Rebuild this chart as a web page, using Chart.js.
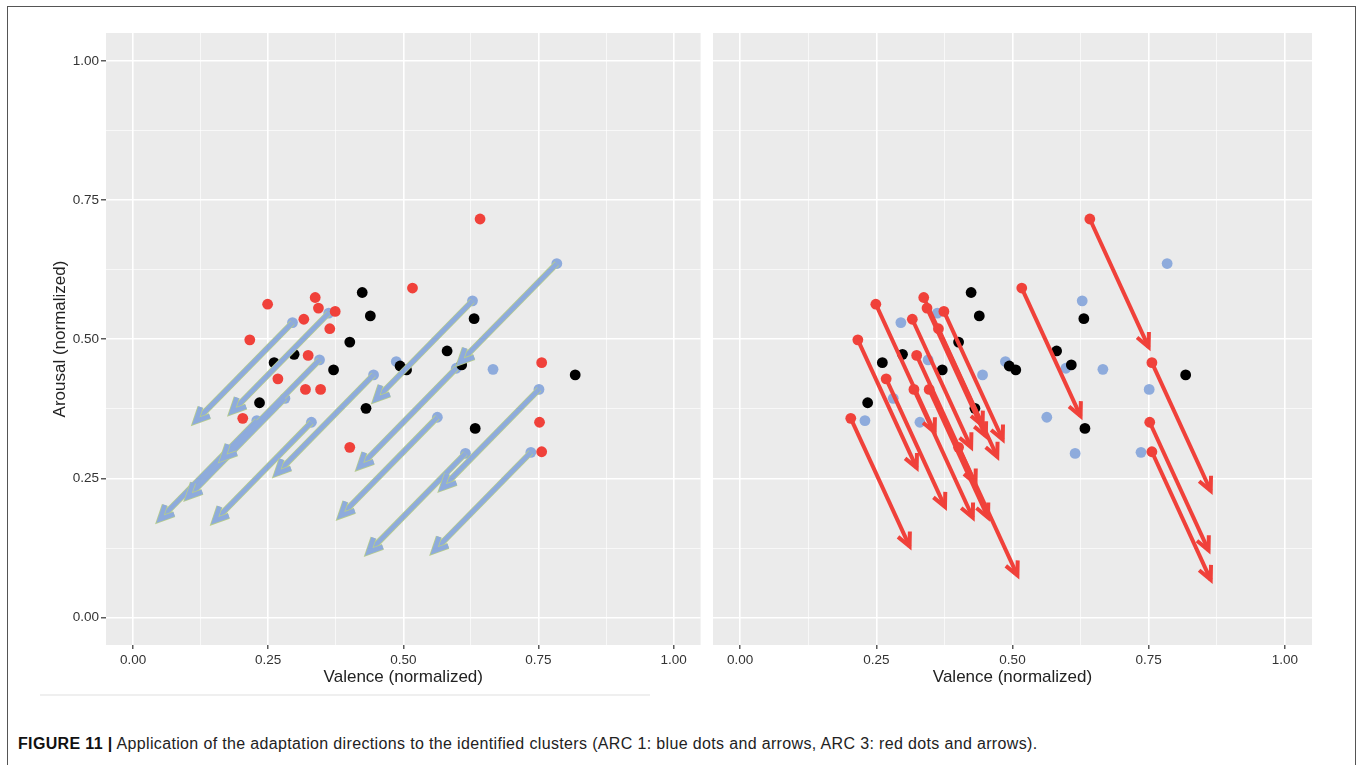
<!DOCTYPE html>
<html>
<head>
<meta charset="utf-8">
<script src="https://cdn.jsdelivr.net/npm/chart.js@4.4.1/dist/chart.umd.min.js"></script>
<style>
  body { margin: 0; background: #fff; width: 1358px; height: 765px; overflow: hidden; position: relative; font-family: "Liberation Sans", Arial, sans-serif; }
  #frame { position: absolute; left: 7px; top: 6px; width: 1347px; height: 800px; border: 1px solid #555; }
  #left { position: absolute; left: 0; top: 0; }
  #right { position: absolute; left: 706px; top: 0; }
  #smudge { position: absolute; left: 40px; top: 694px; width: 610px; height: 2px; background: #efefef; }
  #caption { position: absolute; left: 18px; top: 735px; font-size: 16px; letter-spacing: 0.35px; color: #222; white-space: nowrap; }
  #caption b { color: #111; }
</style>
</head>
<body>
<div id="frame"></div>
<div id="smudge"></div>
<canvas id="left" width="706" height="700"></canvas>
<canvas id="right" width="652" height="700"></canvas>
<div id="caption"><b>FIGURE 11 |</b> Application of the adaptation directions to the identified clusters (ARC 1: blue dots and arrows, ARC 3: red dots and arrows).</div>
<script>
// valence / arousal of each cluster
const blackPoints = [
  [0.424, 0.584], [0.439, 0.542], [0.401, 0.495], [0.298, 0.473], [0.261, 0.458],
  [0.371, 0.445], [0.234, 0.386], [0.431, 0.376], [0.581, 0.479], [0.608, 0.454],
  [0.631, 0.537], [0.494, 0.452], [0.506, 0.445], [0.633, 0.340], [0.818, 0.436]
];
const arc1Points = [
  [0.784, 0.636], [0.628, 0.569], [0.295, 0.530], [0.362, 0.547], [0.345, 0.463],
  [0.445, 0.436], [0.487, 0.460], [0.598, 0.448], [0.666, 0.446], [0.751, 0.410],
  [0.281, 0.394], [0.229, 0.354], [0.330, 0.351], [0.563, 0.360], [0.615, 0.295],
  [0.736, 0.297]
];
// which ARC 1 points got an arrow
const arc1Moved = [true, true, true, true, true, true, false, true, false, true, true, true, true, true, true, true];
const arc3Points = [
  [0.642, 0.716], [0.517, 0.592], [0.249, 0.563], [0.337, 0.575], [0.343, 0.556],
  [0.374, 0.550], [0.316, 0.536], [0.364, 0.519], [0.216, 0.499], [0.324, 0.471],
  [0.268, 0.429], [0.319, 0.410], [0.347, 0.410], [0.203, 0.358], [0.401, 0.306],
  [0.756, 0.458], [0.752, 0.351], [0.756, 0.298]
];
// adaptation directions (delta valence, delta arousal)
const arc1Shift = [-0.179, -0.177];
const arc3Shift = [0.108, -0.230];

const gridValues = [0, 0.125, 0.25, 0.375, 0.5, 0.625, 0.75, 0.875, 1];
const tickLabels = ['0.00', '0.25', '0.50', '0.75', '1.00'];

const RED = '#f0413a';
const BLUE = '#8eabdc';
const EDGE = '#b6cc8c';
const FONT = '"Liberation Sans", Arial, sans-serif';

const toXY = p => ({ x: p[0], y: p[1] });

const panelBg = {
  id: 'panelBg',
  beforeDraw(chart) {
    const { ctx, chartArea: a } = chart;
    ctx.save();
    ctx.fillStyle = '#ebebeb';
    ctx.fillRect(a.left, a.top, a.right - a.left, a.bottom - a.top);
    ctx.restore();
  }
};

const arrowHeads = {
  id: 'arrowHeads',
  afterDatasetsDraw(chart, args, opts) {
    const { ctx } = chart;
    const xs = chart.scales.x, ys = chart.scales.y;
    ctx.save();
    (opts.list || []).forEach(a => {
      const x0 = xs.getPixelForValue(a.from[0]), y0 = ys.getPixelForValue(a.from[1]);
      const x1 = xs.getPixelForValue(a.to[0]), y1 = ys.getPixelForValue(a.to[1]);
      const ang = Math.atan2(y1 - y0, x1 - x0);
      const len = a.len, spread = 0.45;
      ctx.strokeStyle = a.color;
      ctx.lineWidth = a.width;
      ctx.lineJoin = 'miter';
      ctx.lineCap = 'butt';
      ctx.beginPath();
      ctx.moveTo(x1 - len * Math.cos(ang - spread), y1 - len * Math.sin(ang - spread));
      ctx.lineTo(x1, y1);
      ctx.lineTo(x1 - len * Math.cos(ang + spread), y1 - len * Math.sin(ang + spread));
      ctx.stroke();
    });
    ctx.restore();
  }
};

function scales(showY) {
  const major = c => c.index % 2 === 0;
  const grid = {
    color: c => major(c) ? '#ffffff' : 'rgba(255,255,255,0.7)',
    lineWidth: c => major(c) ? 1.6 : 0.9,
    tickColor: c => major(c) ? '#333' : 'rgba(0,0,0,0)',
    tickWidth: 1.2
  };
  const ticks = {
    autoSkip: false, maxRotation: 0, color: '#333',
    font: { family: FONT, size: 13.5 },
    callback: (v, i) => i % 2 === 0 ? tickLabels[i / 2] : ''
  };
  return {
    x: {
      type: 'linear', min: -0.05, max: 1.05,
      afterBuildTicks: s => { s.ticks = gridValues.map(v => ({ value: v })); },
      afterFit: s => { s.height = 43; },
      border: { display: false },
      grid: { ...grid, tickLength: 4 },
      ticks: { ...ticks, padding: 3 },
      title: { display: true, text: 'Valence (normalized)', color: '#222', font: { family: FONT, size: 17 }, padding: { top: 0, bottom: 0 } }
    },
    y: {
      type: 'linear', min: -0.049, max: 1.05,
      afterBuildTicks: s => { s.ticks = gridValues.map(v => ({ value: v })); },
      afterFit: s => { s.width = showY ? 59 : 0; },
      border: { display: false },
      grid: { ...grid, tickLength: 5, drawTicks: showY },
      ticks: { ...ticks, padding: 2, display: showY },
      title: { display: showY, text: 'Arousal (normalized)', color: '#222', font: { family: FONT, size: 17 }, padding: { top: 3, bottom: 0 } }
    }
  };
}

function makePanel(canvas, pad, movedPoints, shift, color, width, withEdge, headLen) {
  const datasets = [];
  const heads = [];
  movedPoints.forEach(p => {
    const end = [p[0] + shift[0], p[1] + shift[1]];
    datasets.push({
      type: 'line', data: [toXY(p), toXY(end)], borderColor: color, borderWidth: width,
      pointRadius: 0, fill: false, order: 1
    });
    if (withEdge) {
      datasets.push({
        type: 'line', data: [toXY(p), toXY(end)], borderColor: EDGE, borderWidth: width + 1.6,
        pointRadius: 0, fill: false, order: 1.5
      });
      heads.push({ from: p, to: end, color: EDGE, width: width + 1.6, len: headLen });
    }
    heads.push({ from: p, to: end, color: color, width: width, len: headLen });
  });
  datasets.push({ type: 'scatter', data: blackPoints.map(toXY), backgroundColor: '#000', pointRadius: 5.4, borderWidth: 0, order: 2 });
  datasets.push({ type: 'scatter', data: arc3Points.map(toXY), backgroundColor: RED, pointRadius: 5.4, borderWidth: 0, order: 3 });
  datasets.push({ type: 'scatter', data: arc1Points.map(toXY), backgroundColor: BLUE, pointRadius: 5.4, borderWidth: 0, order: 3 });

  return new Chart(canvas.getContext('2d'), {
    type: 'scatter',
    data: { datasets },
    options: {
      responsive: false,
      animation: false,
      events: [],
      layout: { padding: pad },
      plugins: { legend: { display: false }, tooltip: { enabled: false }, arrowHeads: { list: heads } },
      scales: scales(pad.left > 20)
    },
    plugins: [panelBg, arrowHeads]
  });
}

const arc1Arrows = arc1Points.filter((p, i) => arc1Moved[i]);

makePanel(document.getElementById('left'), { left: 47, right: 2, top: 33, bottom: 12 },
  arc1Arrows, arc1Shift, BLUE, 4.6, true, 15);
makePanel(document.getElementById('right'), { left: 7, right: 46, top: 33, bottom: 12 },
  arc3Points, arc3Shift, RED, 4, false, 15);
</script>
</body>
</html>
